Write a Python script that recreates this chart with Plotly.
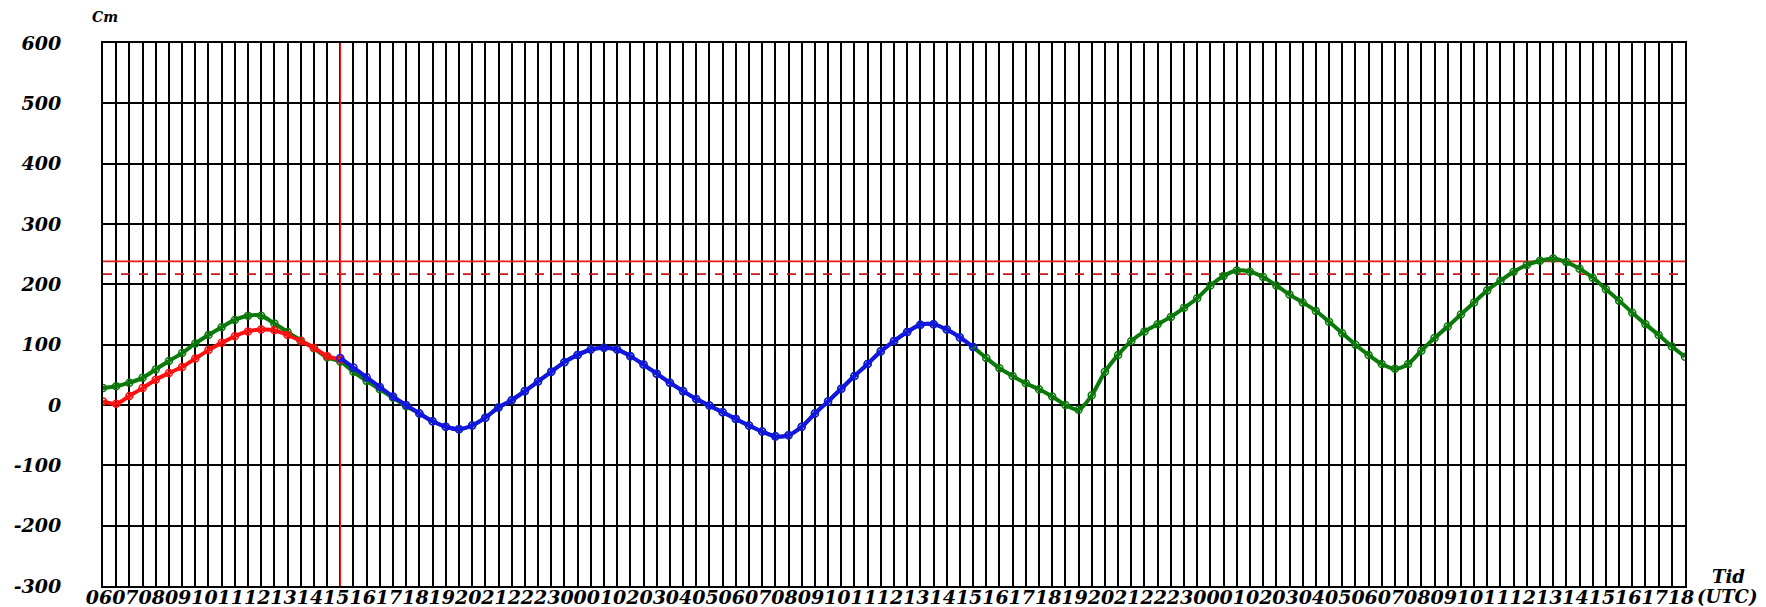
import plotly.graph_objects as go

# ---------------- data ----------------
hour_labels = (["%02d" % h for h in range(6, 24)] +
               ["%02d" % h for h in range(0, 24)] +
               ["%02d" % h for h in range(0, 19)])          # 06 .. 18, three days

y_tick_values = [600, 500, 400, 300, 200, 100, 0, -100, -200, -300]
y_tick_labels = ["600", "500", "400", "300", "200", "100", "0", "-100", "-200", "-300"]

step_hours = 0.5          # readings every 30 minutes

# observed water level (red), from 06:00 day 1
observed = [6, 2, 15, 28, 42, 53, 63, 77, 91, 103, 114, 122, 125, 124, 116, 106, 95, 81, 76]
observed_start = 0

# forecast (blue), from 15:00 day 1 to 15:00 day 2
forecast = [78, 62, 46, 30, 14, 0, -14, -27, -36, -40, -34, -21, -4, 8, 23, 39, 55, 71, 83, 92,
            95, 92, 81, 67, 52, 37, 23, 10, -1, -12, -23, -34, -44, -52, -50, -36, -14, 6, 27, 48,
            68, 89, 106, 121, 133, 134, 125, 112, 96]
forecast_start = 9

# model (green), whole period
model = [28, 31, 37, 45, 59, 73, 86, 102, 116, 129, 141, 148, 148, 135, 121, 107, 94, 79, 72,
         55, 40, 26, 12, -2,
         -14, -27, -36, -40, -34, -21, -4, 8, 23, 39, 55, 71, 83, 92, 95, 92, 81, 67, 52, 37,
         23, 10, -1, -12, -23, -34, -44, -52, -50, -36, -14, 6, 27, 48, 68, 89, 106, 121, 133, 134,
         125, 112, 96,
         78, 61, 48, 36, 26, 14, 0, -8, 16, 55, 83, 106, 122, 134, 146, 161, 177, 198,
         214, 223, 221, 212, 198, 183, 170, 156, 138, 119, 100, 83, 68, 60, 68, 90, 111, 130,
         150, 170, 190, 206, 221, 232, 239, 243, 237, 226, 211, 192, 173, 153, 134, 116, 97, 80]
model_start = 0

warning_level = 238      # solid red line
notice_level = 217       # dashed red line
now_hour = 9             # vertical red line (15:00 day 1)

# ---------------- figure ----------------
def xs(start, n):
    return [start + i * step_hours for i in range(n)]

n_hours = len(hour_labels) - 1
grid_vals = [i * step_hours for i in range(int(n_hours / step_hours) + 1)]
grid_text = [hour_labels[int(v)] if v == int(v) else "" for v in grid_vals]

font_main = dict(family="DejaVu Serif", size=19, color="black", weight="bold", style="italic")
font_side = dict(family="DejaVu Serif", size=18, color="black", weight="bold", style="italic")

fig = go.Figure()

# reference lines
fig.add_trace(go.Scatter(x=[0, n_hours], y=[warning_level, warning_level], mode="lines",
                         line=dict(color="#e8181c", width=1.6), hoverinfo="skip", showlegend=False))
fig.add_trace(go.Scatter(x=[0, n_hours], y=[notice_level, notice_level], mode="lines",
                         line=dict(color="#c81818", width=1.6, dash="dash"), hoverinfo="skip",
                         showlegend=False))
fig.add_trace(go.Scatter(x=[now_hour, now_hour], y=[y_tick_values[-1], y_tick_values[0]], mode="lines",
                         line=dict(color="#e8181c", width=1.6), hoverinfo="skip", showlegend=False))

def series(xv, yv, color):
    return go.Scatter(x=xv, y=yv, mode="lines+markers",
                      line=dict(color=color, width=4, shape="spline", smoothing=0.8),
                      marker=dict(symbol="circle-open", size=7, color=color, line=dict(width=1.5, color=color)),
                      showlegend=False)

fig.add_trace(series(xs(model_start, len(model)), model, "#0b7a0b"))
fig.add_trace(series(xs(observed_start, len(observed)), observed, "#ff1010"))
fig.add_trace(series(xs(forecast_start, len(forecast)), forecast, "#1414e6"))

# the page body adds an 8px offset, so the figure is 8px smaller and margins shifted
fig.update_layout(
    width=1758, height=599, autosize=False,
    margin=dict(l=95, r=81, t=35, b=21),
    paper_bgcolor="white", plot_bgcolor="white",
    font=font_main,
    xaxis=dict(range=[0, n_hours], tickmode="array", tickvals=grid_vals, ticktext=grid_text,
               showgrid=True, gridcolor="black", gridwidth=2, zeroline=False,
               showline=True, linecolor="black", linewidth=2, mirror=True, automargin=False,
               ticks="", tickfont=font_main, tickangle=0, ticklabelstandoff=-7, ticklabelshift=-4),
    yaxis=dict(range=[y_tick_values[-1], y_tick_values[0]], tickmode="array",
               tickvals=y_tick_values, ticktext=y_tick_labels,
               showgrid=True, gridcolor="black", gridwidth=2, zeroline=False,
               showline=True, linecolor="black", linewidth=2, mirror=True, automargin=False,
               ticks="", tickfont=font_main, ticklabelstandoff=36),
    annotations=[
        dict(text="Cm", xref="paper", yref="paper", x=-0.0085, y=1.048, showarrow=False,
             xanchor="left", yanchor="middle", font=dict(family="DejaVu Serif", size=14, color="black",
                                                         weight="bold", style="italic")),
        dict(text="Tid", xref="paper", yref="paper", x=1.039, y=0.017, showarrow=False,
             xanchor="right", yanchor="middle", font=font_side),
        dict(text="(UTC)", xref="paper", yref="paper", x=1.047, y=-0.020, showarrow=False,
             xanchor="right", yanchor="middle", font=font_side),
    ],
)

fig.write_html("out.html")
